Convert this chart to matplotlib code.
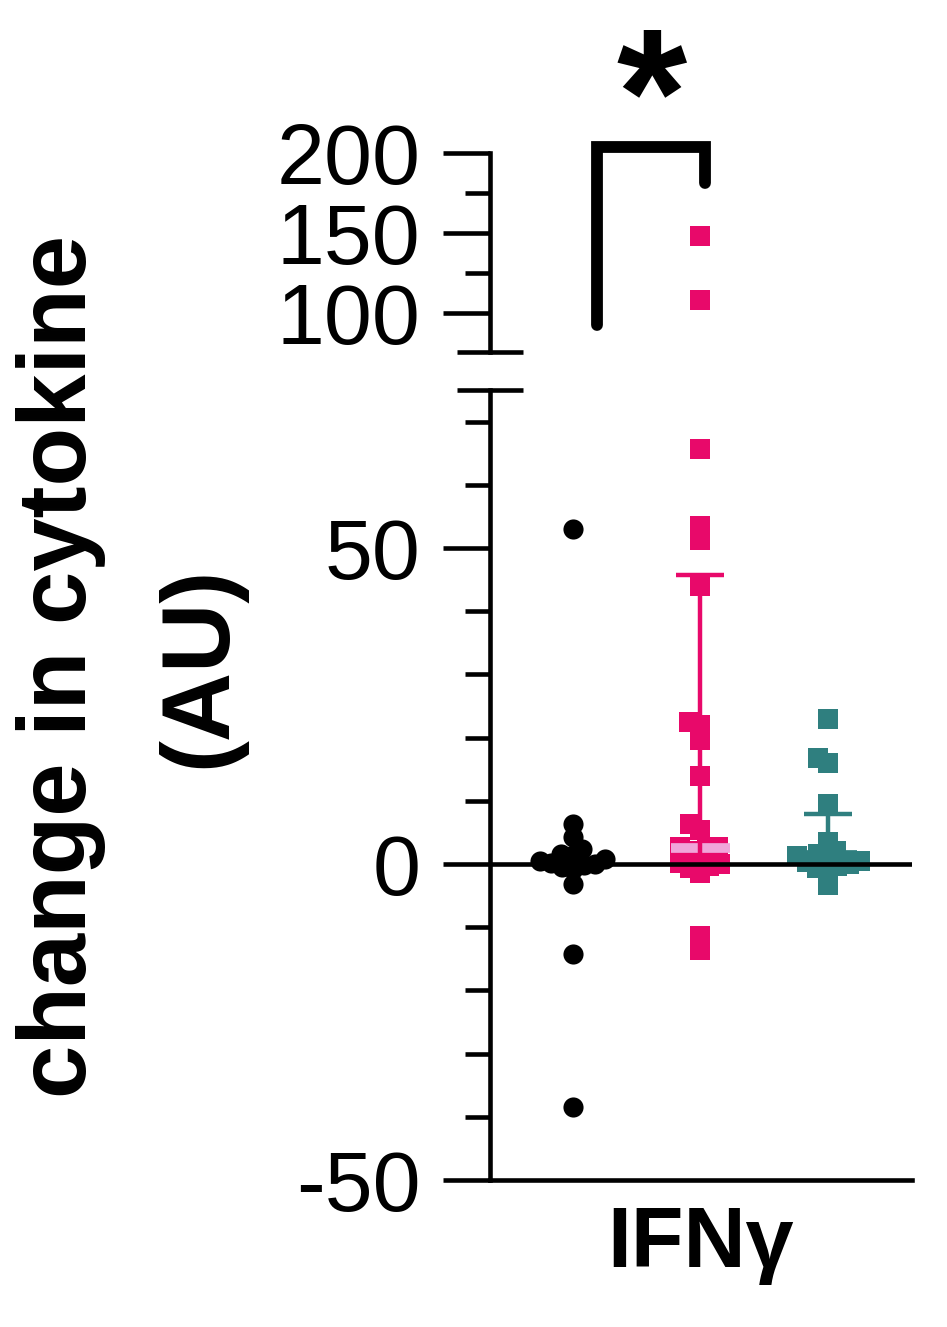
import numpy as np
import matplotlib.pyplot as plt

plt.rcParams['font.family'] = ['Liberation Sans', 'DejaVu Sans']
plt.rcParams['axes.unicode_minus'] = False

# data (change in cytokine, AU)
cytokine = 'IFNγ'
group_colors = ['#000000', '#E8096A', '#2F7F7F']
group_markers = ['o', 's', 's']

group1 = [53.0, 6.3, 4.3, 2.4, 1.6, 1.4, 0.8, 0.5, 0.2, 0.0, -0.2, -0.5, -0.8, -3.2, -14.2, -38.4]
group2 = [148.0, 108.0, 65.7, 53.5, 51.3, 44.0, 22.5, 22.0, 19.6, 14.0, 6.3, 5.4, 2.7, 2.7,
          2.5, 2.0, 1.0, 0.2, 0.0, -0.3, -0.6, -1.5, -11.4, -13.6]
group3 = [23.0, 16.8, 16.0, 9.5, 3.5, 2.0, 1.6, 1.2, 0.8, 0.5, 0.3, 0.0, -0.3, -0.6, -1.3, -3.3]

# error bars (center, lower, upper) for groups 2 and 3
bar_center = [2.5, 1.5]
bar_low = [0.0, 0.0]
bar_high = [45.7, 7.9]
bar_line_colors = ['#F0A6DA', '#2F7F7F']

groups = [group1, group2, group3]

W, H = 947, 1327
fig = plt.figure(figsize=(W / 100, H / 100), dpi=100)


def px_box(left, top, right, bottom):
    return [left / W, 1 - bottom / H, (right - left) / W, (bottom - top) / H]


ax_lo = fig.add_axes(px_box(490, 390, 912, 1180))
ax_hi = fig.add_axes(px_box(490, 153, 912, 352))

lw = 3.3
for ax in (ax_lo, ax_hi):
    ax.set_xlim(0.35, 3.66)
    for s in ('top', 'right'):
        ax.spines[s].set_visible(False)
    ax.spines['left'].set_linewidth(lw)
    ax.spines['bottom'].set_linewidth(lw)
    ax.tick_params(axis='y', which='major', length=34, width=lw, labelsize=62, pad=16)
    ax.tick_params(axis='y', which='minor', length=18, width=lw)
    ax.patch.set_alpha(0)

ax_lo.set_ylim(-50, 75)
ax_lo.set_yticks([-50, 0, 50])
ax_lo.set_yticks([-40, -30, -20, -10, 10, 20, 30, 40, 60, 70], minor=True)
ax_lo.set_xticks([2])
ax_lo.set_xticklabels([cytokine], fontsize=62, fontweight='bold')
ax_lo.tick_params(axis='x', length=0, pad=18)

ax_hi.set_ylim(75.6, 200)
ax_hi.set_yticks([100, 150, 200])
ax_hi.set_yticks([125, 175], minor=True)
ax_hi.spines['bottom'].set_visible(False)
ax_hi.set_xticks([])

# break marks on the y axis
ax_hi.plot([0], [0], marker='_', markersize=47, markeredgewidth=lw, color='k',
           transform=ax_hi.transAxes, clip_on=False)
ax_lo.plot([0], [1], marker='_', markersize=47, markeredgewidth=lw, color='k',
           transform=ax_lo.transAxes, clip_on=False)


def swarm(ax, x0, vals, dist=11.5):
    vals = np.asarray(vals, dtype=float)
    pts = ax.transData.transform(np.column_stack([np.full(len(vals), x0), vals]))
    ys = pts[:, 1]
    offs = np.zeros(len(vals))
    placed = []
    for i in np.argsort(ys):
        y = ys[i]
        cands = [0.0]
        for xo, yo in placed:
            dy = y - yo
            if abs(dy) < dist:
                dx = np.sqrt(dist ** 2 - dy ** 2)
                cands += [xo - dx, xo + dx]
        cands.sort(key=abs)
        for c in cands:
            if all((c - xo) ** 2 + (y - yo) ** 2 >= dist ** 2 - 1e-6 for xo, yo in placed):
                offs[i] = c
                break
        placed.append((offs[i], y))
    back = ax.transData.inverted().transform(np.column_stack([pts[:, 0] + offs, ys]))
    return back[:, 0]


for ax in (ax_lo, ax_hi):
    lo, hi = ax.get_ylim()
    for k, vals in enumerate(groups):
        v = np.array([x for x in vals if lo <= x <= hi])
        if len(v) == 0:
            continue
        xs = swarm(ax, k + 1, v)
        ax.scatter(xs, v, s=210, marker=group_markers[k], color=group_colors[k],
                   linewidths=0, zorder=3)

# center lines and error bars
for j, k in enumerate([1, 2]):
    x = k + 1
    ax_lo.hlines(bar_center[j], x - 0.23, x + 0.23, color=bar_line_colors[j], lw=7, zorder=4)
    ax_lo.errorbar([x], [bar_center[j]],
                   yerr=[[bar_center[j] - bar_low[j]], [bar_high[j] - bar_center[j]]],
                   fmt='none', ecolor=group_colors[k], elinewidth=3.2, capsize=17, capthick=3.2,
                   zorder=4)

ax_lo.axhline(0, color='k', lw=lw, zorder=6)

# significance bracket
ax_hi.plot([1.19, 1.19, 2.04, 2.04], [92.5, 204, 204, 181], color='k', lw=8.5,
           solid_capstyle='round', solid_joinstyle='miter', clip_on=False, zorder=5)
ax_hi.text(1.615, 199, '*', ha='center', va='baseline', fontsize=130, fontweight='bold',
           clip_on=False)

fig.text(131 / W, 1 - 667 / H, 'change in cytokine\n(AU)', rotation=90, ha='center',
         va='center', fontsize=69, fontweight='bold', linespacing=1.7)

fig.savefig('out.png', dpi=100)
